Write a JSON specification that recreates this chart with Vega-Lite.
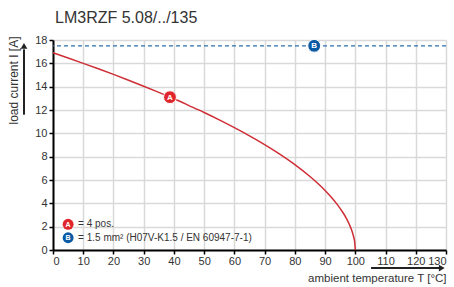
{
  "$schema": "https://vega.github.io/schema/vega-lite/v6.json",
  "width": 393,
  "height": 210,
  "autosize": {"type": "none"},
  "padding": {"left": 53, "top": 40, "right": 8, "bottom": 37},
  "background": "white",
  "data": {"values": [{}]},
  "config": {
    "font": "Liberation Sans",
    "view": {"stroke": null},
    "axis": {
      "domainColor": "#000", "domainWidth": 2, "tickColor": "#000", "tickWidth": 1.5, "tickSize": 4,
      "gridColor": "#d9d9d9", "gridWidth": 1.5, "labelFont": "Liberation Sans", "labelFontSize": 11,
      "labelColor": "#333", "titleFont": "Liberation Sans", "titleFontWeight": "normal", "titleColor": "#333",
      "labelOverlap": false
    }
  },
  "title": {
    "text": "LM3RZF 5.08/../135", "anchor": "start", "frame": "group", "fontSize": 16,
    "fontWeight": "normal", "color": "#333", "font": "Liberation Sans", "baseline": "alphabetic", "offset": 15, "dx": 2, "dy": 20
  },
  "datasets": {
    "curve": [
      {"T": 0, "I": 16.9}, {"T": 5, "I": 16.46}, {"T": 10, "I": 16.0}, {"T": 15, "I": 15.53},
      {"T": 20, "I": 15.05}, {"T": 25, "I": 14.55}, {"T": 30, "I": 14.04}, {"T": 35, "I": 13.51},
      {"T": 40, "I": 12.96}, {"T": 45, "I": 12.38}, {"T": 50, "I": 11.79}, {"T": 55, "I": 11.16},
      {"T": 60, "I": 10.49}, {"T": 65, "I": 9.79}, {"T": 70, "I": 9.04}, {"T": 75, "I": 8.22},
      {"T": 80, "I": 7.32}, {"T": 85, "I": 6.3}, {"T": 88, "I": 5.61}, {"T": 90, "I": 5.1},
      {"T": 92, "I": 4.54}, {"T": 94, "I": 3.91}, {"T": 96, "I": 3.17}, {"T": 97, "I": 2.73},
      {"T": 98, "I": 2.21}, {"T": 99, "I": 1.54}, {"T": 99.5, "I": 1.07}, {"T": 99.8, "I": 0.67},
      {"T": 100, "I": 0}
    ],
    "markers": [
      {"label": "A", "T": 38.7, "I": 13.1},
      {"label": "B", "T": 86.4, "I": 17.5}
    ]
  },
  "layer": [
    {
      "data": {"name": "curve"},
      "mark": {"type": "line", "color": "#cf2e36", "strokeWidth": 1.5, "interpolate": "monotone"},
      "encoding": {
        "x": {"field": "T", "type": "quantitative", "scale": {"domain": [0, 130], "nice": false},
          "axis": {"values": [0,10,20,30,40,50,60,70,80,90,100,110,120,130], "tickCount": 14, "labelPadding": 1, "grid": true,
            "title": "ambient temperature T [°C]", "titleFontSize": 11.5, "titleX": 393, "titleY": 31,
            "titleAlign": "right", "titleBaseline": "alphabetic", "titleAnchor": null}},
        "y": {"field": "I", "type": "quantitative", "scale": {"domain": [0, 18], "nice": false},
          "axis": {"values": [0,2,4,6,8,10,12,14,16,18], "tickCount": 10, "labelPadding": 2, "grid": true,
            "title": "load current I [A]", "titleFontSize": 12, "titleX": -40, "titleY": 40,
            "titleAngle": 270, "titleAlign": "center", "titleBaseline": "middle"}}
      }
    },
    {
      "mark": {"type": "rule", "color": "#2f6eab", "strokeWidth": 1.2, "strokeDash": [4, 3]},
      "encoding": {"y": {"datum": 17.5, "type": "quantitative"}}
    },
    {
      "data": {"name": "markers"},
      "mark": {"type": "point", "shape": "circle", "filled": true, "size": 165, "stroke": "white", "strokeWidth": 1, "opacity": 1},
      "encoding": {
        "x": {"field": "T", "type": "quantitative"},
        "y": {"field": "I", "type": "quantitative"},
        "fill": {"field": "label", "type": "nominal", "scale": {"domain": ["A", "B"], "range": ["#e0262c", "#0b5aa5"]}, "legend": null}
      }
    },
    {
      "data": {"name": "markers"},
      "mark": {"type": "text", "color": "white", "fontSize": 8, "fontWeight": "bold", "baseline": "middle", "align": "center", "dy": 0.5},
      "encoding": {
        "x": {"field": "T", "type": "quantitative"},
        "y": {"field": "I", "type": "quantitative"},
        "text": {"field": "label"}
      }
    },
    {
      "mark": {"type": "point", "shape": "circle", "filled": true, "size": 120, "color": "#e0262c", "opacity": 1},
      "encoding": {"x": {"datum": 5.0, "type": "quantitative"}, "y": {"datum": 2.2, "type": "quantitative"}}
    },
    {
      "mark": {"type": "point", "shape": "circle", "filled": true, "size": 120, "color": "#0b5aa5", "opacity": 1},
      "encoding": {"x": {"datum": 5.0, "type": "quantitative"}, "y": {"datum": 1.05, "type": "quantitative"}}
    },
    {
      "mark": {"type": "text", "color": "white", "fontSize": 7, "fontWeight": "bold", "baseline": "middle", "align": "center", "dy": 0.5},
      "encoding": {"x": {"datum": 5.0, "type": "quantitative"}, "y": {"datum": 2.2, "type": "quantitative"}, "text": {"value": "A"}}
    },
    {
      "mark": {"type": "text", "color": "white", "fontSize": 7, "fontWeight": "bold", "baseline": "middle", "align": "center", "dy": 0.5},
      "encoding": {"x": {"datum": 5.0, "type": "quantitative"}, "y": {"datum": 1.05, "type": "quantitative"}, "text": {"value": "B"}}
    },
    {
      "mark": {"type": "text", "color": "#333", "fontSize": 10, "baseline": "middle", "align": "left"},
      "encoding": {"x": {"datum": 8.3, "type": "quantitative"}, "y": {"datum": 2.2, "type": "quantitative"}, "text": {"value": "= 4 pos."}}
    },
    {
      "mark": {"type": "text", "color": "#333", "fontSize": 10, "baseline": "middle", "align": "left"},
      "encoding": {"x": {"datum": 8.3, "type": "quantitative"}, "y": {"datum": 1.05, "type": "quantitative"}, "text": {"value": "= 1.5 mm² (H07V-K1.5 / EN 60947-7-1)"}}
    },
    {
      "mark": {"type": "rule", "color": "#222", "strokeWidth": 2},
      "encoding": {"x": {"datum": -9.6, "type": "quantitative"}, "y": {"datum": 11.6, "type": "quantitative"}, "y2": {"datum": 17.2}}
    },
    {
      "mark": {"type": "point", "shape": "triangle-up", "filled": true, "size": 45, "color": "#222", "opacity": 1},
      "encoding": {"x": {"datum": -9.6, "type": "quantitative"}, "y": {"datum": 17.5, "type": "quantitative"}}
    },
    {
      "mark": {"type": "rule", "color": "#222", "strokeWidth": 2},
      "encoding": {"x": {"datum": 105.2, "type": "quantitative"}, "x2": {"datum": 128}, "y": {"datum": -1.55, "type": "quantitative"}}
    },
    {
      "mark": {"type": "point", "shape": "triangle-right", "filled": true, "size": 45, "color": "#222", "opacity": 1},
      "encoding": {"x": {"datum": 128.6, "type": "quantitative"}, "y": {"datum": -1.55, "type": "quantitative"}}
    }
  ]
}
